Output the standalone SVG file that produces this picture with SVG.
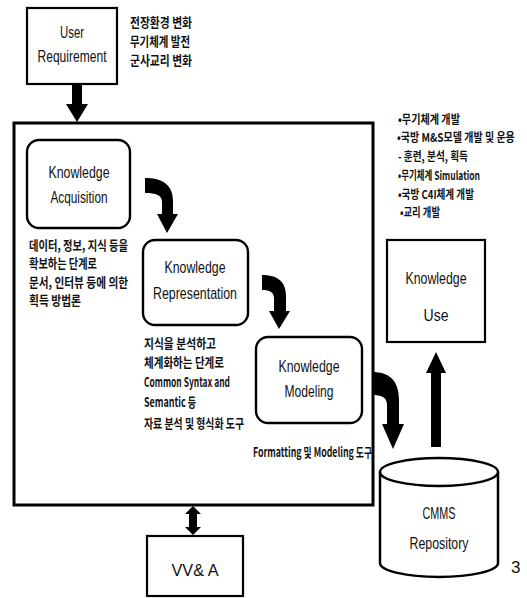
<svg xmlns="http://www.w3.org/2000/svg" width="527" height="598" viewBox="0 0 527 598">
<style>
.box{fill:#fff;stroke:#000;stroke-width:2.2}
.rbox{fill:#fff;stroke:#000;stroke-width:2.4}
.en{font-family:"Liberation Sans",Arial,sans-serif;font-size:17px;fill:#111}
.ko{font-family:"Noto Sans CJK KR",sans-serif;font-size:13px;font-weight:bold;fill:#111}
.bl{font-size:12px}
.arrow{fill:#000}
</style>
<rect width="527" height="598" fill="#fff"/>
<g id="connectors">
  <path class="arrow" d="M72,84 L82,84 L82,104 L88,104 L77,122 L66,104 L72,104 Z"/>
  <path class="arrow" d="M145,178 C160,178 173,183 173,201 L173,214 L178,214 L167,233 L157,214 L162,214 L162,202 C162,195 156,193 145,193 Z"/>
  <path class="arrow" d="M262,275 C277,275 286,281 286,296 L286,311 L290,311 L279,329 L269,311 L274,311 L274,299 C274,292 270,290 262,290 Z"/>
  <path class="arrow" d="M372,372 C389,372 399,380 399,400 L399,424 L404,424 L393,449 L382,424 L387,424 L387,405 C387,397 381,395 372,395 Z"/>
  <path class="arrow" d="M431,447 L441,447 L441,373 L446,373 L436,352 L426,373 L431,373 Z"/>
  <path class="arrow" d="M189,514 L189,527 L185,527 L193,535 L201,527 L197,527 L197,514 L201,514 L193,506 L185,514 Z"/>
</g>
<g id="main-frame">
  <rect x="14" y="123" width="359" height="382" fill="none" stroke="#000" stroke-width="3"/>
</g>
<g id="user-requirement">
  <rect class="box" x="27" y="8" width="90" height="76"/>
  <text class="en" x="72" y="38" text-anchor="middle" textLength="24" lengthAdjust="spacingAndGlyphs">User</text>
  <text class="en" x="72" y="62" text-anchor="middle" textLength="69" lengthAdjust="spacingAndGlyphs">Requirement</text>
</g>
<g id="ur-notes">
  <text class="ko" x="130" y="27" textLength="62" lengthAdjust="spacingAndGlyphs">전장환경 변화</text>
  <text class="ko" x="130" y="46" textLength="60" lengthAdjust="spacingAndGlyphs">무기체계 발전</text>
  <text class="ko" x="130" y="65" textLength="62" lengthAdjust="spacingAndGlyphs">군사교리 변화</text>
</g>
<g id="knowledge-acquisition">
  <rect class="rbox" x="27" y="140" width="103" height="88" rx="12"/>
  <text class="en" x="79" y="178" text-anchor="middle" textLength="61" lengthAdjust="spacingAndGlyphs">Knowledge</text>
  <text class="en" x="79" y="203" text-anchor="middle" textLength="57" lengthAdjust="spacingAndGlyphs">Acquisition</text>
</g>
<g id="ka-notes">
  <text class="ko" x="29" y="250" textLength="99" lengthAdjust="spacingAndGlyphs">데이터, 정보, 지식 등을</text>
  <text class="ko" x="29" y="268" textLength="68" lengthAdjust="spacingAndGlyphs">확보하는 단계로</text>
  <text class="ko" x="29" y="287" textLength="99" lengthAdjust="spacingAndGlyphs">문서, 인터뷰 등에 의한</text>
  <text class="ko" x="29" y="305" textLength="52" lengthAdjust="spacingAndGlyphs">획득 방법론</text>
</g>
<g id="knowledge-representation">
  <rect class="rbox" x="143" y="240" width="105" height="85" rx="12"/>
  <text class="en" x="195" y="273" text-anchor="middle" textLength="61" lengthAdjust="spacingAndGlyphs">Knowledge</text>
  <text class="en" x="195" y="299" text-anchor="middle" textLength="84" lengthAdjust="spacingAndGlyphs">Representation</text>
</g>
<g id="kr-notes">
  <text class="ko" x="144" y="348" textLength="72" lengthAdjust="spacingAndGlyphs">지식을 분석하고</text>
  <text class="ko" x="144" y="367" textLength="80" lengthAdjust="spacingAndGlyphs">체계화하는 단계로</text>
  <text class="ko" x="144" y="387" textLength="86" lengthAdjust="spacingAndGlyphs">Common Syntax and</text>
  <text class="ko" x="144" y="407" textLength="52" lengthAdjust="spacingAndGlyphs">Semantic 등</text>
  <text class="ko" x="144" y="428" textLength="100" lengthAdjust="spacingAndGlyphs">자료 분석 및 형식화 도구</text>
</g>
<g id="knowledge-modeling">
  <rect class="rbox" x="256" y="337" width="106" height="86" rx="12"/>
  <text class="en" x="309" y="372" text-anchor="middle" textLength="61" lengthAdjust="spacingAndGlyphs">Knowledge</text>
  <text class="en" x="309" y="397" text-anchor="middle" textLength="49" lengthAdjust="spacingAndGlyphs">Modeling</text>
</g>
<g id="km-notes">
  <text class="ko" x="253" y="457" font-weight="normal" textLength="119" lengthAdjust="spacingAndGlyphs">Formatting 및 Modeling 도구</text>
</g>
<g id="use-notes">
  <text class="ko bl" x="398" y="124" textLength="62" lengthAdjust="spacingAndGlyphs">•무기체계 개발</text>
  <text class="ko bl" transform="translate(397,142) scale(0.78,1)" x="0" y="0" textLength="151" lengthAdjust="spacingAndGlyphs">•국방 M&amp;S모델 개발 및 운용</text>
  <text class="ko bl" x="398" y="161" textLength="70" lengthAdjust="spacingAndGlyphs">- 훈련, 분석, 획득</text>
  <text class="ko bl" x="398" y="180" textLength="82" lengthAdjust="spacingAndGlyphs">•무기체계 Simulation</text>
  <text class="ko bl" x="398" y="199" textLength="76" lengthAdjust="spacingAndGlyphs">•국방 C4I체계 개발</text>
  <text class="ko bl" x="400" y="217" textLength="40" lengthAdjust="spacingAndGlyphs">•교리 개발</text>
</g>
<g id="knowledge-use">
  <rect class="box" x="387" y="240" width="98" height="102"/>
  <text class="en" x="436" y="284" text-anchor="middle" textLength="61" lengthAdjust="spacingAndGlyphs">Knowledge</text>
  <text class="en" x="436" y="321" text-anchor="middle" textLength="25" lengthAdjust="spacingAndGlyphs">Use</text>
</g>
<g id="cmms-repository">
  <path d="M380,472 L380,563 A59,14 0 0 0 498,563 L498,472" fill="#fff" stroke="#000" stroke-width="2.5"/>
  <ellipse cx="439" cy="472" rx="59" ry="14" fill="#fff" stroke="#000" stroke-width="2.5"/>
  <text class="en" x="439" y="519" text-anchor="middle" textLength="33" lengthAdjust="spacingAndGlyphs">CMMS</text>
  <text class="en" x="439" y="549" text-anchor="middle" textLength="59" lengthAdjust="spacingAndGlyphs">Repository</text>
  <text class="en" x="511" y="573" font-size="15">3</text>
</g>
<g id="vva">
  <rect class="box" x="147" y="536" width="96" height="60"/>
  <text class="en" x="195" y="576" text-anchor="middle" textLength="47" lengthAdjust="spacingAndGlyphs">VV&amp; A</text>
</g>
</svg>
